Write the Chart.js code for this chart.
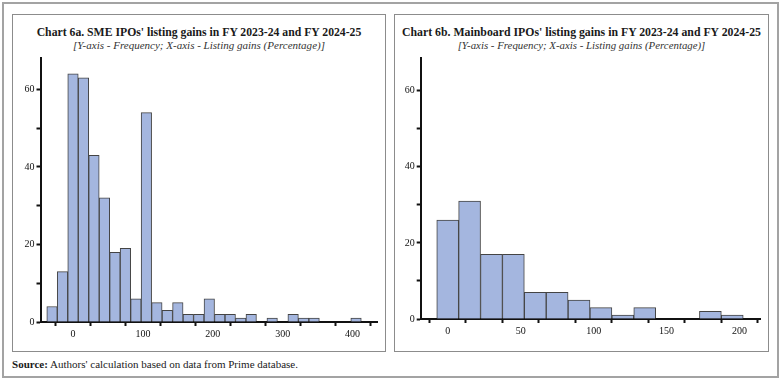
<!DOCTYPE html>
<html><head><meta charset="utf-8">
<script src="https://cdn.jsdelivr.net/npm/chart.js@4.4.1/dist/chart.umd.min.js"></script>
<style>
body{margin:0;background:#fff;width:782px;height:382px;position:relative;overflow:hidden;font-family:"Liberation Serif","DejaVu Serif",serif;}
.frame{position:absolute;left:2px;top:2px;width:773px;height:372px;border:2px solid #a3a3a3;}
.panel{position:absolute;top:14px;height:336px;border:1px solid #8c8c8c;}
#p1{left:12px;width:372px}
#p2{left:394px;width:373px}
.title{position:absolute;left:0;right:0;top:9px;text-align:center;font-weight:bold;font-size:12px;color:#1a1a1a;white-space:nowrap;line-height:16px}
.sub{position:absolute;left:0;right:0;top:23px;text-align:center;font-style:italic;font-size:10.5px;color:#333;white-space:nowrap;line-height:14px}
.title span,.sub span{display:inline-block}
canvas{position:absolute;}
#c1{left:13px;top:50px}
#c2{left:395px;top:50px}
#src{position:absolute;left:12px;top:357px;font-size:10.5px;color:#1a1a1a;white-space:nowrap;line-height:14px}
</style>
</head><body>
<div class="frame"></div>
<div class="panel" id="p1">
  <div class="title"><span id="t1">Chart 6a. SME IPOs' listing gains in FY 2023-24 and FY 2024-25</span></div>
  <div class="sub"><span id="s1">[Y-axis - Frequency; X-axis - Listing gains (Percentage)]</span></div>
</div>
<div class="panel" id="p2">
  <div class="title"><span id="t2">Chart 6b. Mainboard IPOs' listing gains in FY 2023-24 and FY 2024-25</span></div>
  <div class="sub"><span id="s2">[Y-axis - Frequency; X-axis - Listing gains (Percentage)]</span></div>
</div>
<canvas id="c1" width="372" height="300"></canvas>
<canvas id="c2" width="372" height="300"></canvas>
<div id="src"><span id="srcspan"><b>Source:</b> Authors' calculation based on data from Prime database.</span></div>
<script>
// SME IPOs (Chart 6a): bin centres (listing gain %) and frequencies
const smeBins = [-30,-15,0,15,30,45,60,75,90,105,120,135,150,165,180,195,210,225,240,255,270,285,300,315,330,345,360,375,390,405];
const smeCounts = [4,13,64,63,43,32,18,19,6,54,5,3,5,2,2,6,2,2,1,2,0,1,0,2,1,1,0,0,0,1];
// Mainboard IPOs (Chart 6b)
const mainBins = [0,15,30,45,60,75,90,105,120,135,150,165,180,195];
const mainCounts = [26,31,17,17,7,7,5,3,1,3,0,0,2,1];
// tick labels
const smeXLabels = [0,100,200,300,400];
const mainXLabels = [0,50,100,150,200];
const yLabels = [0,20,40,60];

function fitWidth(id, target){
  const el = document.getElementById(id);
  const w = el.getBoundingClientRect().width;
  const fs = parseFloat(getComputedStyle(el).fontSize);
  el.style.fontSize = (fs*target/w).toFixed(2)+'px';
}
fitWidth('t1',325); fitWidth('t2',359); fitWidth('s1',252); fitWidth('s2',248); fitWidth('srcspan',286);

const FONT = {family:"'Liberation Serif','DejaVu Serif',serif", size:10};
const DARK = '#111';

function makeChart(id, bins, counts, xMin, xMax, xStep, xLabels, yMax, yAxisW, xAxisH, padR){
  const data = bins.map((b,i)=>({x:b, y:counts[i]}));
  return new Chart(document.getElementById(id), {
    type:'bar',
    data:{datasets:[{data:data, backgroundColor:'#a4b6df', borderColor:'#444', borderWidth:1, borderSkipped:'start', barPercentage:1, categoryPercentage:1}]},
    options:{
      responsive:false, animation:false, devicePixelRatio:1,
      layout:{padding:{top:5,right:padR,left:0,bottom:0}},
      plugins:{legend:{display:false}, tooltip:{enabled:false}},
      scales:{
        x:{type:'linear', min:xMin, max:xMax, offset:false,
           grid:{display:true, drawOnChartArea:false, drawTicks:true, tickLength:4, tickWidth:2, tickColor:DARK},
           border:{display:true, width:2, color:DARK},
           ticks:{stepSize:xStep, includeBounds:false, autoSkip:false, maxRotation:0, padding:2, color:DARK, font:FONT,
                  callback:(v)=> xLabels.includes(v) ? String(v) : ''},
           afterFit:(s)=>{s.height = xAxisH;}
        },
        y:{type:'linear', min:0, max:yMax,
           grid:{display:true, drawOnChartArea:false, drawTicks:true, tickLength:4, tickWidth:2, tickColor:DARK},
           border:{display:true, width:2, color:DARK},
           ticks:{stepSize:10, includeBounds:false, autoSkip:false, padding:2, color:DARK, font:FONT,
                  callback:(v)=> yLabels.includes(v) ? String(v) : ''},
           afterFit:(s)=>{s.width = yAxisW;}
        }
      }
    }
  });
}
makeChart('c1', smeBins, smeCounts, -46.5, 435, 50, smeXLabels, 68.1, 27.5, 28, 8);
makeChart('c2', mainBins, mainCounts, -18.5, 214, 25, mainXLabels, 68.6, 25.7, 31, 7);
</script>
</body></html>
